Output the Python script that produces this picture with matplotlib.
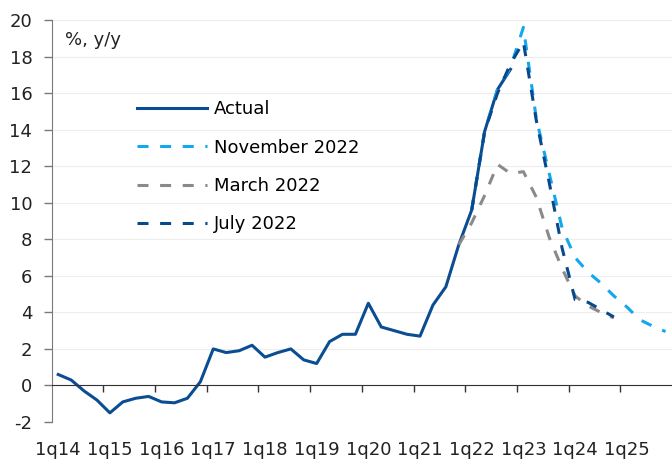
import matplotlib.pyplot as plt
import numpy as np

plt.rcParams['axes.unicode_minus'] = False

# quarterly CPI, % y/y
quarters = [f'{q}q{y:02d}' for y in range(14, 26) for q in range(1, 5)]

actual = [0.6, 0.3, -0.3, -0.8, -1.5, -0.9, -0.7, -0.6,
          -0.9, -0.95, -0.7, 0.2, 2.0, 1.8, 1.9, 2.2,
          1.55, 1.8, 2.0, 1.4, 1.2, 2.4, 2.8, 2.8,
          4.5, 3.2, 3.0, 2.8, 2.7, 4.4, 5.4, 7.7,
          9.6, 13.9, 16.2, 17.3]

nov22_start = '1q22'
nov22 = [9.6, 13.9, 16.2, 17.4, 19.6, 14.6, 11.6, 8.6,
         7.0, 6.2, 5.6, 4.9, 4.3, 3.6, 3.25, 2.95]

mar22_start = '4q21'
mar22 = [7.7, 8.9, 10.4, 12.1, 11.6, 11.7, 10.3, 8.1,
         6.4, 4.9, 4.35, 4.0, 3.7]

jul22_start = '1q22'
jul22 = [9.6, 13.9, 16.0, 17.6, 18.8, 14.5, 11.1, 7.5,
         4.7, 4.55, 4.15, 3.75]


def xpos(start, vals):
    i0 = quarters.index(start)
    return np.arange(i0, i0 + len(vals))


fig = plt.figure(figsize=(6.72, 4.59), dpi=100)
ax = fig.add_axes([0.077, 0.0806, 0.923, 0.8758])

dash = (0, (3.6, 3.8))
ax.plot(np.arange(len(actual)), actual, color='#0a4d92', lw=2.2, label='Actual')
ax.plot(xpos(nov22_start, nov22), nov22, color='#13a8ee', lw=2.2, ls=dash,
        label='November 2022')
ax.plot(xpos(mar22_start, mar22), mar22, color='#8a8a8a', lw=2.2, ls=dash,
        label='March 2022')
ax.plot(xpos(jul22_start, jul22), jul22, color='#08498c', lw=2.2, ls=dash,
        label='July 2022')

handles, labels = ax.get_legend_handles_labels()
ax.legend(handles, labels, loc='upper left', bbox_to_anchor=(0.1375, 0.80),
          frameon=False, fontsize=13, handlelength=3.9, handletextpad=0.35,
          labelspacing=1.12, borderpad=0, borderaxespad=0)

ax.set_xlim(-0.5, len(quarters) - 0.5)
ax.set_ylim(-2, 20)
ax.set_yticks(np.arange(-2, 21, 2))
ax.grid(axis='y', color='#ededed', lw=0.8)
ax.set_axisbelow(True)

ax.spines['top'].set_visible(False)
ax.spines['right'].set_visible(False)
ax.spines['left'].set_color('#7a7a7a')
ax.spines['bottom'].set_position(('data', 0))
ax.spines['bottom'].set_color('#333333')

ax.set_xticks(np.arange(0, len(quarters), 4), quarters[::4])
ax.set_xticks(np.arange(3.5, len(quarters) - 4, 4), minor=True)
ax.tick_params(axis='x', which='major', length=0, pad=40, labelsize=13,
               colors='#222222')
ax.tick_params(axis='x', which='minor', length=5, width=1, color='#333333')
ax.tick_params(axis='y', length=6, width=1, pad=8, labelsize=13,
               color='#7a7a7a', labelcolor='#222222')

ax.text(0.021, 0.95, '%, y/y', transform=ax.transAxes, fontsize=13,
        va='center', ha='left', color='#222222')

fig.savefig('out.png', dpi=100)
